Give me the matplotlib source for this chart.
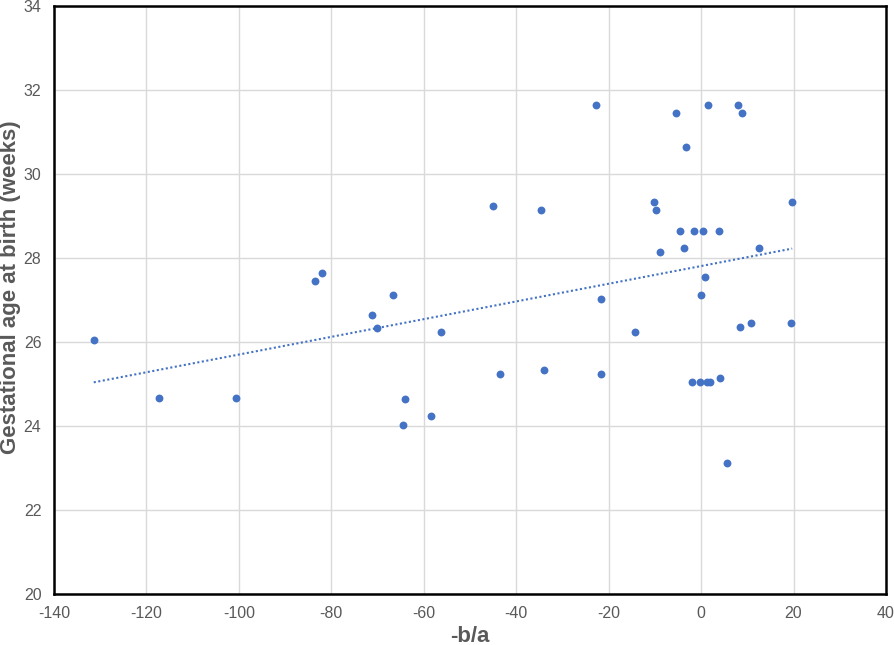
import matplotlib
matplotlib.use("Agg")
import matplotlib.pyplot as plt
import numpy as np

plt.rcParams['font.family'] = ['Liberation Sans', 'DejaVu Sans']
plt.rcParams['axes.unicode_minus'] = False

x_vals = [-131.4, -117.2, -100.6, -83.5, -82.0, -71.1, -70.1, -66.6, -64.5, -64.0,
          -58.4, -56.3, -45.0, -43.6, -34.7, -33.9,
          -22.8, -21.7, -21.7, -14.3, -10.1, -9.8, -9.0, -5.4, -4.5, -3.6, -3.3,
          -1.9, -1.6, -0.3, -0.1, 0.5, 0.8, 1.3, 1.4, 2.0, 3.8, 4.0, 5.6,
          7.9, 8.5, 8.8, 10.8, 12.6, 19.4, 19.7]
y_vals = [26.04, 24.65, 24.65, 27.45, 27.64, 26.63, 26.33, 27.12, 24.02, 24.64,
          24.22, 26.24, 29.23, 25.23, 29.14, 25.33,
          31.64, 27.02, 25.23, 26.24, 29.33, 29.14, 28.13, 31.44, 28.64, 28.22, 30.63,
          25.04, 28.64, 25.04, 27.12, 28.64, 27.55, 25.04, 31.64, 25.04, 28.64, 25.14, 23.12,
          31.64, 26.34, 31.44, 26.44, 28.22, 26.44, 29.33]

x_ticks = [-140, -120, -100, -80, -60, -40, -20, 0, 20, 40]
y_ticks = [20, 22, 24, 26, 28, 30, 32, 34]

blue = '#4472C4'
gray = '#595959'

fig = plt.figure(figsize=(8.94, 6.45), dpi=100)
ax = fig.add_axes([54/894, 1-593.7/645, (886-54)/894, (593.7-5.7)/645])

x = np.array(x_vals)
y = np.array(y_vals)
ax.scatter(x, y, s=32, color=blue, zorder=3, linewidths=0)

m, b = np.polyfit(x, y, 1)
xl = np.array([x.min(), x.max()])
ax.plot(xl, m*xl + b, linestyle=(0, (1, 1.2)), color=blue, linewidth=1.5, zorder=2)

ax.set_xlim(-140, 40)
ax.set_ylim(20, 34)
ax.set_xticks(x_ticks)
ax.set_yticks(y_ticks)
ax.grid(True, color='#D9D9D9', linewidth=1.0)
ax.set_axisbelow(True)
for s in ax.spines.values():
    s.set_color('black')
    s.set_linewidth(1.8)
ax.tick_params(length=0, labelsize=11.5, labelcolor=gray, pad=9)
ax.set_xlabel('-b/a', fontsize=16, fontweight='bold', color=gray)
ax.set_ylabel('Gestational age at birth (weeks)', fontsize=16, fontweight='bold', color=gray)
ax.xaxis.set_label_coords(0.5, -(636 - 593.7) / 588, transform=ax.transAxes)
ax.yaxis.set_label_coords(-(54 - 10.5) / 832, (593.7 - 287.5) / 588, transform=ax.transAxes)
ax.xaxis.label.set_va('center')
ax.yaxis.label.set_va('center')

fig.savefig('out.png', dpi=100)
